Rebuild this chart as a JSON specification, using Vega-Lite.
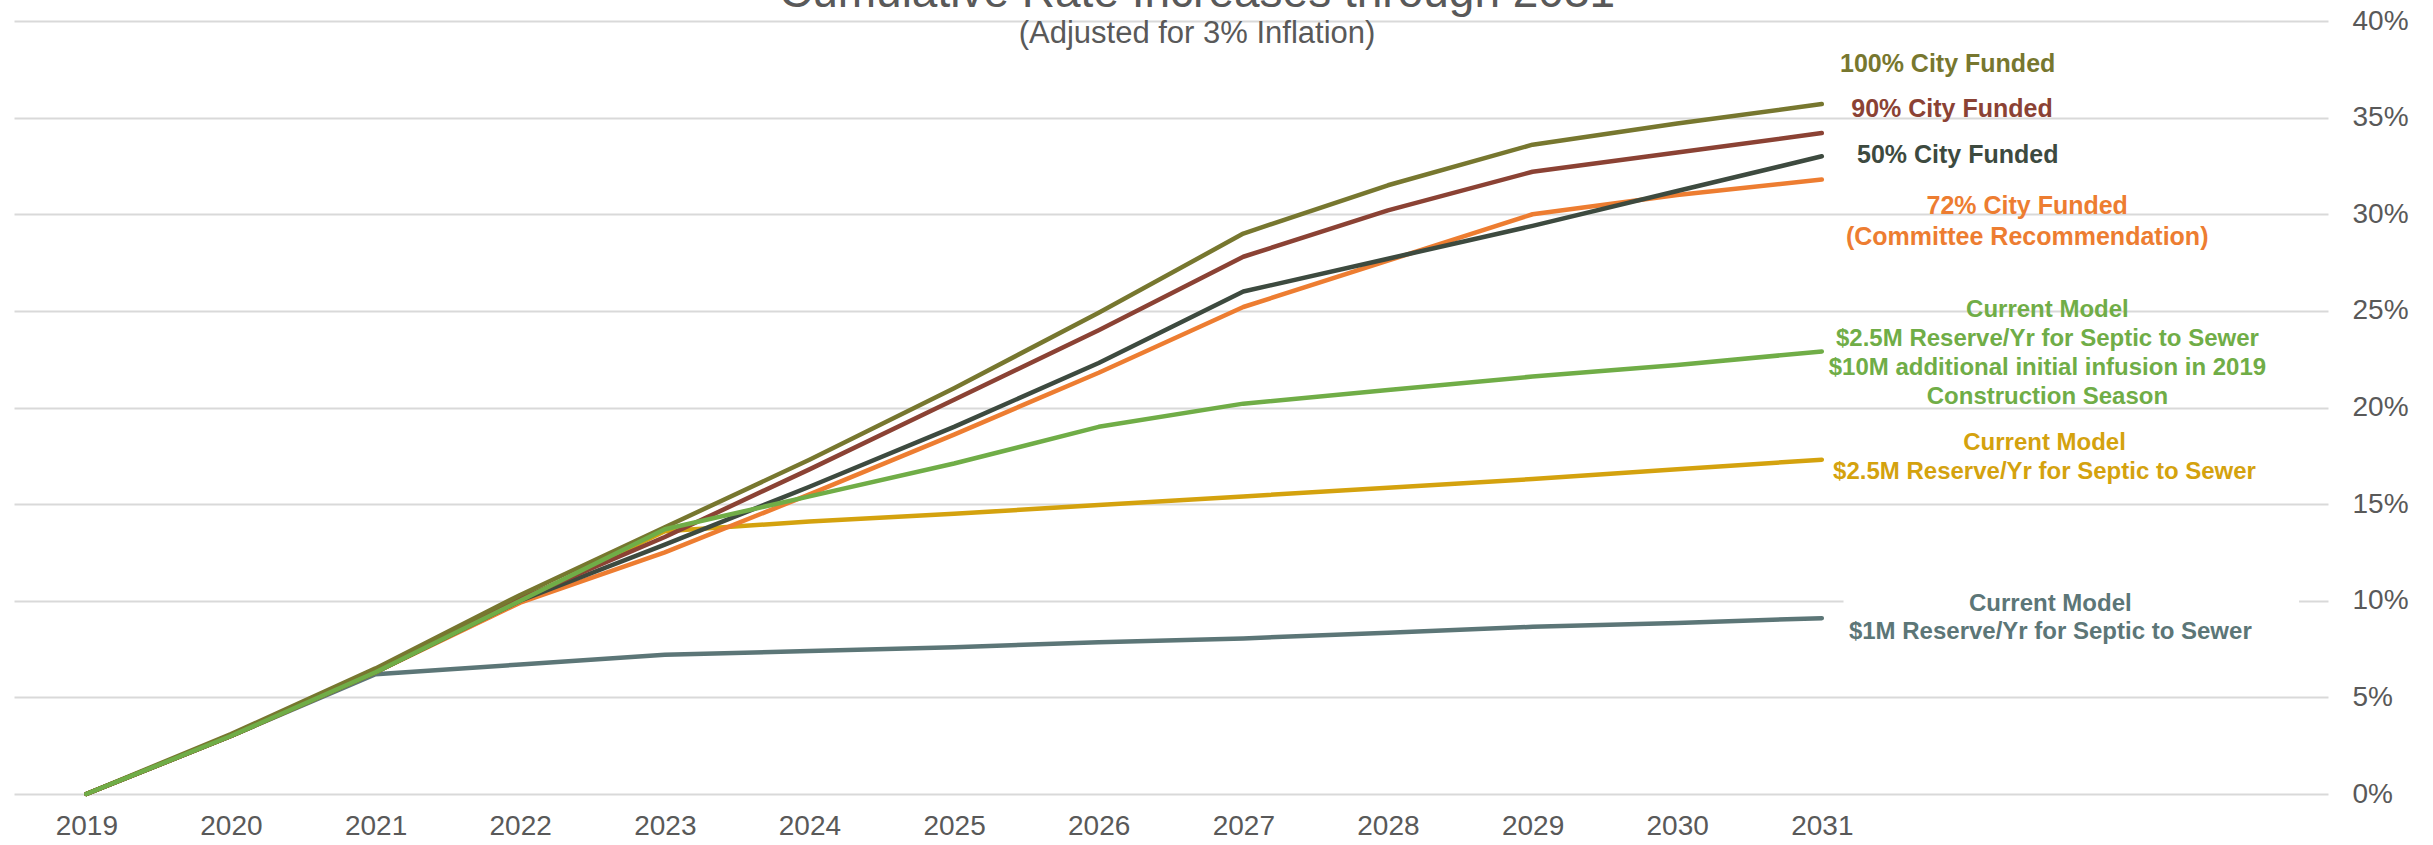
{
  "$schema": "https://vega.github.io/schema/vega-lite/v6.json",
  "width": 2314,
  "height": 773,
  "autosize": "none",
  "padding": {"left": 14, "top": 21, "right": 105, "bottom": 51},
  "background": "white",
  "title": {
    "text": "Cumulative Rate Increases through 2031",
    "subtitle": "(Adjusted for 3% Inflation)",
    "anchor": "middle",
    "frame": "group",
    "font": "Liberation Sans",
    "fontSize": 46,
    "fontWeight": "normal",
    "color": "#595959",
    "subtitleFont": "Liberation Sans",
    "subtitleFontSize": 31,
    "subtitleColor": "#595959",
    "subtitlePadding": 2,
    "offset": -43,
    "dx": 26
  },
  "config": {
    "view": {"stroke": null},
    "axis": {"labelFont": "Liberation Sans", "labelColor": "#595959", "labelFontSize": 28, "domain": false, "ticks": false, "title": null}
  },
  "datasets": {
    "lines": [
      {"series": "Current Model $1M", "year": 2019, "value": 0},
      {"series": "Current Model $1M", "year": 2020, "value": 0.030},
      {"series": "Current Model $1M", "year": 2021, "value": 0.062},
      {"series": "Current Model $1M", "year": 2022, "value": 0.067},
      {"series": "Current Model $1M", "year": 2023, "value": 0.072},
      {"series": "Current Model $1M", "year": 2024, "value": 0.074},
      {"series": "Current Model $1M", "year": 2025, "value": 0.076},
      {"series": "Current Model $1M", "year": 2026, "value": 0.0785},
      {"series": "Current Model $1M", "year": 2027, "value": 0.0805},
      {"series": "Current Model $1M", "year": 2028, "value": 0.0835},
      {"series": "Current Model $1M", "year": 2029, "value": 0.0865},
      {"series": "Current Model $1M", "year": 2030, "value": 0.0885},
      {"series": "Current Model $1M", "year": 2031, "value": 0.091},
      {"series": "Current Model $2.5M", "year": 2019, "value": 0},
      {"series": "Current Model $2.5M", "year": 2020, "value": 0.030},
      {"series": "Current Model $2.5M", "year": 2021, "value": 0.063},
      {"series": "Current Model $2.5M", "year": 2022, "value": 0.100},
      {"series": "Current Model $2.5M", "year": 2023, "value": 0.136},
      {"series": "Current Model $2.5M", "year": 2024, "value": 0.141},
      {"series": "Current Model $2.5M", "year": 2025, "value": 0.145},
      {"series": "Current Model $2.5M", "year": 2026, "value": 0.1495},
      {"series": "Current Model $2.5M", "year": 2027, "value": 0.154},
      {"series": "Current Model $2.5M", "year": 2028, "value": 0.1585},
      {"series": "Current Model $2.5M", "year": 2029, "value": 0.163},
      {"series": "Current Model $2.5M", "year": 2030, "value": 0.168},
      {"series": "Current Model $2.5M", "year": 2031, "value": 0.173},
      {"series": "72% City Funded", "year": 2019, "value": 0},
      {"series": "72% City Funded", "year": 2020, "value": 0.030},
      {"series": "72% City Funded", "year": 2021, "value": 0.063},
      {"series": "72% City Funded", "year": 2022, "value": 0.099},
      {"series": "72% City Funded", "year": 2023, "value": 0.125},
      {"series": "72% City Funded", "year": 2024, "value": 0.155},
      {"series": "72% City Funded", "year": 2025, "value": 0.186},
      {"series": "72% City Funded", "year": 2026, "value": 0.218},
      {"series": "72% City Funded", "year": 2027, "value": 0.252},
      {"series": "72% City Funded", "year": 2028, "value": 0.276},
      {"series": "72% City Funded", "year": 2029, "value": 0.300},
      {"series": "72% City Funded", "year": 2030, "value": 0.310},
      {"series": "72% City Funded", "year": 2031, "value": 0.318},
      {"series": "50% City Funded", "year": 2019, "value": 0},
      {"series": "50% City Funded", "year": 2020, "value": 0.030},
      {"series": "50% City Funded", "year": 2021, "value": 0.063},
      {"series": "50% City Funded", "year": 2022, "value": 0.100},
      {"series": "50% City Funded", "year": 2023, "value": 0.129},
      {"series": "50% City Funded", "year": 2024, "value": 0.159},
      {"series": "50% City Funded", "year": 2025, "value": 0.190},
      {"series": "50% City Funded", "year": 2026, "value": 0.223},
      {"series": "50% City Funded", "year": 2027, "value": 0.260},
      {"series": "50% City Funded", "year": 2028, "value": 0.277},
      {"series": "50% City Funded", "year": 2029, "value": 0.294},
      {"series": "50% City Funded", "year": 2030, "value": 0.312},
      {"series": "50% City Funded", "year": 2031, "value": 0.330},
      {"series": "90% City Funded", "year": 2019, "value": 0},
      {"series": "90% City Funded", "year": 2020, "value": 0.030},
      {"series": "90% City Funded", "year": 2021, "value": 0.064},
      {"series": "90% City Funded", "year": 2022, "value": 0.101},
      {"series": "90% City Funded", "year": 2023, "value": 0.133},
      {"series": "90% City Funded", "year": 2024, "value": 0.168},
      {"series": "90% City Funded", "year": 2025, "value": 0.204},
      {"series": "90% City Funded", "year": 2026, "value": 0.240},
      {"series": "90% City Funded", "year": 2027, "value": 0.278},
      {"series": "90% City Funded", "year": 2028, "value": 0.302},
      {"series": "90% City Funded", "year": 2029, "value": 0.322},
      {"series": "90% City Funded", "year": 2030, "value": 0.332},
      {"series": "90% City Funded", "year": 2031, "value": 0.342},
      {"series": "100% City Funded", "year": 2019, "value": 0},
      {"series": "100% City Funded", "year": 2020, "value": 0.031},
      {"series": "100% City Funded", "year": 2021, "value": 0.065},
      {"series": "100% City Funded", "year": 2022, "value": 0.103},
      {"series": "100% City Funded", "year": 2023, "value": 0.138},
      {"series": "100% City Funded", "year": 2024, "value": 0.173},
      {"series": "100% City Funded", "year": 2025, "value": 0.210},
      {"series": "100% City Funded", "year": 2026, "value": 0.249},
      {"series": "100% City Funded", "year": 2027, "value": 0.290},
      {"series": "100% City Funded", "year": 2028, "value": 0.315},
      {"series": "100% City Funded", "year": 2029, "value": 0.336},
      {"series": "100% City Funded", "year": 2030, "value": 0.347},
      {"series": "100% City Funded", "year": 2031, "value": 0.357},
      {"series": "Current Model + $10M", "year": 2019, "value": 0},
      {"series": "Current Model + $10M", "year": 2020, "value": 0.030},
      {"series": "Current Model + $10M", "year": 2021, "value": 0.063},
      {"series": "Current Model + $10M", "year": 2022, "value": 0.100},
      {"series": "Current Model + $10M", "year": 2023, "value": 0.137},
      {"series": "Current Model + $10M", "year": 2024, "value": 0.154},
      {"series": "Current Model + $10M", "year": 2025, "value": 0.171},
      {"series": "Current Model + $10M", "year": 2026, "value": 0.190},
      {"series": "Current Model + $10M", "year": 2027, "value": 0.202},
      {"series": "Current Model + $10M", "year": 2028, "value": 0.209},
      {"series": "Current Model + $10M", "year": 2029, "value": 0.216},
      {"series": "Current Model + $10M", "year": 2030, "value": 0.222},
      {"series": "Current Model + $10M", "year": 2031, "value": 0.229}
    ],
    "labels": [
      {"series": "100% City Funded", "group": "top", "text": "100% City Funded", "year": 2031.87, "value": 0.3777},
      {"series": "90% City Funded", "group": "top", "text": "90% City Funded", "year": 2031.90, "value": 0.3544},
      {"series": "50% City Funded", "group": "top", "text": "50% City Funded", "year": 2031.94, "value": 0.3306},
      {"series": "72% City Funded", "group": "top", "text": "72% City Funded", "year": 2032.42, "value": 0.3042},
      {"series": "72% City Funded", "group": "top", "text": "(Committee Recommendation)", "year": 2032.42, "value": 0.2882},
      {"series": "Current Model + $10M", "group": "model", "text": "Current Model", "year": 2032.56, "value": 0.2504},
      {"series": "Current Model + $10M", "group": "model", "text": "$2.5M Reserve/Yr for Septic to Sewer", "year": 2032.56, "value": 0.2354},
      {"series": "Current Model + $10M", "group": "model", "text": "$10M additional initial infusion in 2019", "year": 2032.56, "value": 0.2204},
      {"series": "Current Model + $10M", "group": "model", "text": "Construction Season", "year": 2032.56, "value": 0.2054},
      {"series": "Current Model $2.5M", "group": "model", "text": "Current Model", "year": 2032.54, "value": 0.1816},
      {"series": "Current Model $2.5M", "group": "model", "text": "$2.5M Reserve/Yr for Septic to Sewer", "year": 2032.54, "value": 0.1666},
      {"series": "Current Model $1M", "group": "model", "text": "Current Model", "year": 2032.58, "value": 0.0983},
      {"series": "Current Model $1M", "group": "model", "text": "$1M Reserve/Yr for Septic to Sewer", "year": 2032.58, "value": 0.0838}
    ],
    "mask": [
      {"year": 2031.15, "year2": 2034.3, "value": 0.092, "value2": 0.106}
    ]
  },
  "layer": [
    {
      "data": {"name": "mask"},
      "mark": {"type": "rect", "color": "white"},
      "encoding": {
        "x": {"field": "year", "type": "quantitative", "scale": {"domain": [2018.5, 2034.5], "nice": false, "zero": false}},
        "x2": {"field": "year2"},
        "y": {"field": "value", "type": "quantitative"},
        "y2": {"field": "value2"}
      }
    },
    {
      "data": {"name": "lines"},
      "mark": {"type": "line", "strokeWidth": 4.5, "strokeCap": "round", "strokeJoin": "round"},
      "encoding": {
        "x": {
          "field": "year", "type": "quantitative",
          "scale": {"domain": [2018.5, 2034.5], "nice": false, "zero": false},
          "axis": {"values": [2019, 2020, 2021, 2022, 2023, 2024, 2025, 2026, 2027, 2028, 2029, 2030, 2031], "format": "d", "grid": false, "labelPadding": 18}
        },
        "y": {
          "field": "value", "type": "quantitative",
          "scale": {"domain": [0, 0.4], "nice": false},
          "axis": {"orient": "right", "values": [0, 0.05, 0.1, 0.15, 0.2, 0.25, 0.3, 0.35, 0.4], "format": ".0%", "grid": true, "gridColor": "#d9d9d9", "gridWidth": 2, "labelAlign": "left", "labelPadding": 24}
        },
        "color": {
          "field": "series", "type": "nominal", "legend": null,
          "scale": {
            "domain": ["Current Model $1M", "Current Model $2.5M", "72% City Funded", "50% City Funded", "90% City Funded", "100% City Funded", "Current Model + $10M"],
            "range": ["#5C7677", "#D4A20E", "#ED7D31", "#3D4A3F", "#8B4234", "#77772F", "#70AD47"]
          }
        },
        "order": {"field": "year", "type": "quantitative"}
      }
    },
    {
      "data": {"name": "labels"},
      "transform": [{"filter": "datum.group === 'top'"}],
      "mark": {"type": "text", "font": "Liberation Sans", "fontSize": 25, "fontWeight": "bold", "align": "center", "baseline": "middle"},
      "encoding": {
        "x": {"field": "year", "type": "quantitative"},
        "y": {"field": "value", "type": "quantitative"},
        "text": {"field": "text", "type": "nominal"},
        "color": {"field": "series", "type": "nominal", "legend": null}
      }
    },
    {
      "data": {"name": "labels"},
      "transform": [{"filter": "datum.group === 'model'"}],
      "mark": {"type": "text", "font": "Liberation Sans", "fontSize": 24, "fontWeight": "bold", "align": "center", "baseline": "middle"},
      "encoding": {
        "x": {"field": "year", "type": "quantitative"},
        "y": {"field": "value", "type": "quantitative"},
        "text": {"field": "text", "type": "nominal"},
        "color": {"field": "series", "type": "nominal", "legend": null}
      }
    }
  ]
}
